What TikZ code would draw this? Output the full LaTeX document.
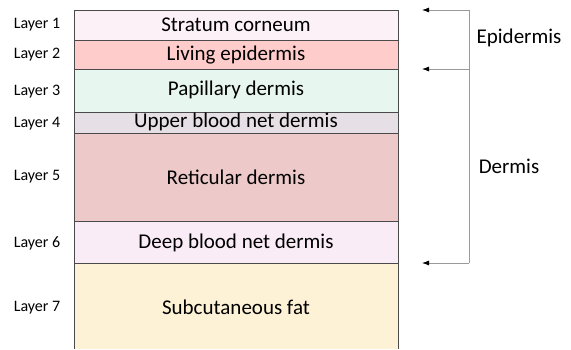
\documentclass[tikz,border=0pt]{standalone}
\usepackage{fontspec}
\setmainfont{Carlito}
\usetikzlibrary{arrows.meta}
\definecolor{skinLine}{HTML}{4A4A4A}
\definecolor{skinArrow}{HTML}{9A9A9A}
\definecolor{skinCorneum}{HTML}{FCF1F6}
\definecolor{skinLiving}{HTML}{FFCCCC}
\definecolor{skinPapillary}{HTML}{E8F6F0}
\definecolor{skinUpper}{HTML}{E6DFE5}
\definecolor{skinReticular}{HTML}{EDC9C9}
\definecolor{skinDeep}{HTML}{F9ECF6}
\definecolor{skinFat}{HTML}{FDF1D6}

\begin{document}
\begin{tikzpicture}[x=1pt,y=-1pt,font=\fontsize{16}{19}\selectfont,
  big/.style={font=\fontsize{21}{25}\selectfont},
  layer/.style={draw=skinLine,line width=1pt}]
  \useasboundingbox (0,0) rectangle (571,349);
  \filldraw[layer,fill=skinCorneum] (74,10) rectangle (398,40);
  \node (lay1) at (37,25) {Layer 1};
  \node[big] (corneum) at (236,25) {Stratum corneum};
  \filldraw[layer,fill=skinLiving] (74,40) rectangle (398,69);
  \node (lay2) at (37,55) {Layer 2};
  \node[big] (living) at (236,55) {Living epidermis};
  \filldraw[layer,fill=skinPapillary] (74,69) rectangle (398,112);
  \node (lay3) at (37,92) {Layer 3};
  \node[big] (papillary) at (236,90) {Papillary dermis};
  \filldraw[layer,fill=skinUpper] (74,112) rectangle (398,133);
  \node (lay4) at (37,124) {Layer 4};
  \node[big] (upper) at (236,122) {Upper blood net dermis};
  \filldraw[layer,fill=skinReticular] (74,133) rectangle (398,221);
  \node (lay5) at (37,177) {Layer 5};
  \node[big] (reticular) at (236,177) {Reticular dermis};
  \filldraw[layer,fill=skinDeep] (74,221) rectangle (398,263);
  \node (lay6) at (37,243) {Layer 6};
  \node[big] (deep) at (236,243) {Deep blood net dermis};
  \fill[skinFat] (74,263) rectangle (398,349);
  \draw[layer] (74,349) -- (74,263) -- (398,263) -- (398,349);
  \node (lay7) at (37,308) {Layer 7};
  \node[big] (fat) at (236,307) {Subcutaneous fat};
  % bracket on the right
  \coordinate (epiTop) at (469,10);
  \coordinate (epiEnd) at (469,69);
  \coordinate (derEnd) at (469,263);
  \coordinate (epiTopTip) at (422,10);
  \coordinate (epiEndTip) at (422,69);
  \coordinate (derEndTip) at (422,263);
  \draw[skinArrow,line width=0.8pt] (epiTop) -- (derEnd);
  \draw[skinArrow,line width=0.8pt,-{Latex[length=7pt,width=5pt,color=black]}] (epiTop) -- (epiTopTip);
  \draw[skinArrow,line width=0.8pt,-{Latex[length=7pt,width=5pt,color=black]}] (epiEnd) -- (epiEndTip);
  \draw[skinArrow,line width=0.8pt,-{Latex[length=7pt,width=5pt,color=black]}] (derEnd) -- (derEndTip);
  \node[big] (epidermis) at (519,38) {Epidermis};
  \node[big] (dermis) at (509,166) {Dermis};
\end{tikzpicture}
\end{document}
